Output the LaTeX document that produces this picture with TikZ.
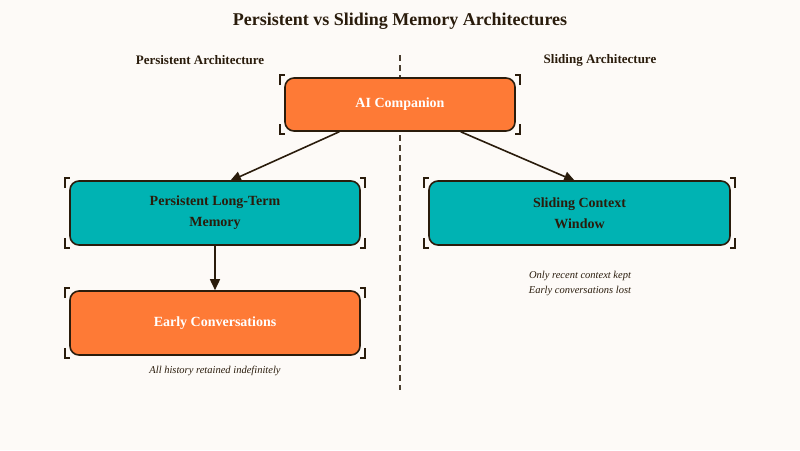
\documentclass[tikz,border=0pt]{standalone}
\usepackage{fontspec}
\setmainfont{Liberation Serif}
\usetikzlibrary{arrows.meta}
\definecolor{bg}{HTML}{FDFAF7}
\definecolor{ink}{HTML}{2A1C0C}
\definecolor{org}{HTML}{FE7A36}
\definecolor{tea}{HTML}{00B3B3}
\begin{document}
\begin{tikzpicture}[x=1pt,y=-1pt,
 box/.style={draw=ink,line width=1.6pt,rounded corners=9pt,inner sep=0pt,font=\bfseries\fontsize{14}{21}\selectfont,align=center},
 ob/.style={box,fill=org,text=white},
 tb/.style={box,fill=tea,text=ink},
 arr/.style={draw=ink,line width=1.6pt,-{Triangle[length=11pt,width=10pt]}},
 note/.style={font=\itshape\fontsize{10.5}{15}\selectfont,text=ink,align=center}]
\fill[bg] (0,0) rectangle (800,450);
\useasboundingbox (0,0) rectangle (800,450);
\node[font=\bfseries\fontsize{18}{20}\selectfont,text=ink] (t) at (400,21) {Persistent vs Sliding Memory Architectures};
\node[font=\bfseries\fontsize{13}{16}\selectfont,text=ink] (lh) at (200,60) {Persistent Architecture};
\node[font=\bfseries\fontsize{13}{16}\selectfont,text=ink] (rh) at (600,60) {Sliding Architecture};
\coordinate (d1) at (400,55); \coordinate (d2) at (400,390);
\draw[ink!85,line width=1.4pt,dash pattern=on 6pt off 4pt] (d1) -- (d2);
\def\brk#1#2#3#4{\draw[ink,line width=1.5pt] (#1-5,#2+7) -- (#1-5,#2-3) -- (#1,#2-3);
 \draw[ink,line width=1.5pt] (#3+5,#2+7) -- (#3+5,#2-3) -- (#3,#2-3);
 \draw[ink,line width=1.5pt] (#1-5,#4-7) -- (#1-5,#4+3) -- (#1,#4+3);
 \draw[ink,line width=1.5pt] (#3+5,#4-7) -- (#3+5,#4+3) -- (#3,#4+3);}
\brk{285}{78}{515}{131}
\brk{70}{181}{360}{245}
\brk{70}{291}{360}{355}
\brk{429}{181}{730}{245}
\node[ob,minimum width=230pt,minimum height=53pt] (ai) at (400,104.5) {AI Companion};
\node[tb,minimum width=290pt,minimum height=64pt] (pm) at (215,213) {Persistent Long-Term\\Memory};
\node[ob,minimum width=290pt,minimum height=64pt] (ec) at (215,323) {Early Conversations};
\node[tb,minimum width=301pt,minimum height=64pt] (sc) at (579.5,213) {Sliding Context\\Window};
\draw[arr] (ai.south west)++(55,0) coordinate (a1) -- (230,181);
\draw[arr] ([xshift=-55pt]ai.south east) -- (575,181);
\draw[arr] (pm) -- (ec);
\node[note] (n1) at (215,371) {All history retained indefinitely};
\node[note] (n2) at (580,283) {Only recent context kept\\Early conversations lost};
\end{tikzpicture}
\end{document}
